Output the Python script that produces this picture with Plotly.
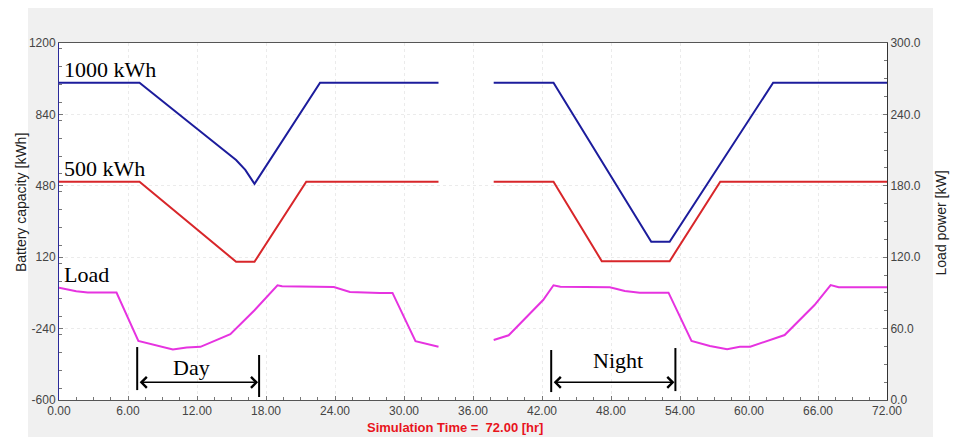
import plotly.graph_objects as go

# ---------------- data ----------------
# Battery state of charge [kWh], left axis (time in hours)
blue_t = [0, 7.0, 12.0, 15.4, 16.2, 17.0, 22.7, 33.0, None,
          37.8, 43.0, 51.5, 53.1, 62.1, 72.0]
blue_v = [1000, 1000, 768, 610, 560, 490, 1000, 1000, None,
          1000, 1000, 198, 198, 1000, 1000]

red_t = [0, 7.0, 15.4, 17.0, 21.5, 33.0, None,
         37.8, 43.0, 47.2, 53.1, 57.5, 72.0]
red_v = [500, 500, 97, 97, 500, 500, None,
         500, 500, 100, 100, 500, 500]

# Load power [kW], right axis
load_t = [0, 1.5, 2.5, 5.0, 6.9, 8.5, 9.9, 11.1, 12.3, 14.9, 17.0, 19.0, 19.4,
          23.9, 25.3, 27.9, 29.0, 31.0, 33.0, None,
          37.8, 39.1, 42.1, 43.0, 43.6, 47.9, 49.2, 50.5, 53.0, 55.0, 56.6,
          58.1, 59.2, 60.1, 63.1, 65.7, 67.1, 67.8, 72.0]
load_v = [94.3, 91.4, 90.3, 90.3, 49.6, 46.1, 42.5, 44.2, 44.7, 55.3, 75.4, 96.4, 95.6,
          95.0, 90.8, 90.0, 90.0, 49.5, 44.7, None,
          50.4, 54.4, 84.0, 96.4, 95.2, 94.7, 91.6, 90.2, 90.2, 49.6, 45.4,
          42.6, 44.8, 44.8, 54.6, 79.8, 96.6, 94.7, 94.7]

day_span = [6.8, 17.4]
night_span = [42.8, 53.6]

x_ticks = [0, 6, 12, 18, 24, 30, 36, 42, 48, 54, 60, 66, 72]
x_labels = ["0.00", "6.00", "12.00", "18.00", "24.00", "30.00", "36.00",
            "42.00", "48.00", "54.00", "60.00", "66.00", "72.00"]
left_ticks = [-600, -240, 120, 480, 840, 1200]
left_labels = ["-600", "-240", "120", "480", "840", "1200"]
right_ticks = [0, 60, 120, 180, 240, 300]
right_labels = ["0.0", "60.0", "120.0", "180.0", "240.0", "300.0"]

# ---------------- figure ----------------
fig = go.Figure()
fig.add_trace(go.Scatter(x=blue_t, y=blue_v, mode="lines",
                         line=dict(color="#1c1c9c", width=2), connectgaps=False,
                         showlegend=False, yaxis="y", hoverinfo="skip"))
fig.add_trace(go.Scatter(x=red_t, y=red_v, mode="lines",
                         line=dict(color="#d8262a", width=2), connectgaps=False,
                         showlegend=False, yaxis="y", hoverinfo="skip"))
fig.add_trace(go.Scatter(x=load_t, y=load_v, mode="lines",
                         line=dict(color="#e633e0", width=2), connectgaps=False,
                         showlegend=False, yaxis="y2", hoverinfo="skip"))

tickfont = dict(family="Arial, Liberation Sans, sans-serif", size=12, color="#444444")
minor_common = dict(ticks="inside", ticklen=3, tickcolor="#777777", showgrid=False)

fig.update_layout(
    width=955, height=437,
    margin=dict(l=59, r=68, t=43, b=37),
    paper_bgcolor="white", plot_bgcolor="white",
    xaxis=dict(range=[0, 72], tickvals=x_ticks, ticktext=x_labels,
               showgrid=True, gridcolor="#ebebeb", griddash="dot", gridwidth=1,
               zeroline=False, showline=True, linecolor="#555555", linewidth=1,
               mirror=True, ticks="inside", ticklen=4, tickcolor="#777777",
               tickfont=tickfont,
               minor=dict(dtick=1.5, **minor_common)),
    yaxis=dict(range=[-600, 1200], tickvals=left_ticks, ticktext=left_labels,
               showgrid=True, gridcolor="#ebebeb", griddash="dot", gridwidth=1,
               zeroline=False, showline=True, linecolor="#2a2a9a", linewidth=1,
               ticks="inside", ticklen=4, tickcolor="#777777",
               tickfont=tickfont,
               minor=dict(dtick=90, **minor_common)),
    yaxis2=dict(range=[0, 300], tickvals=right_ticks, ticktext=right_labels,
                overlaying="y", side="right", showgrid=False, zeroline=False,
                showline=True, linecolor="#333333", linewidth=1,
                ticks="inside", ticklen=4, tickcolor="#777777",
                tickfont=tickfont,
                minor=dict(dtick=15, **minor_common)),
)

# gray frame and white plot area (below the grid)
fig.add_shape(type="rect", xref="paper", yref="paper", layer="below",
              x0=-0.0374, x1=1.0556, y0=-0.11, y1=1.098,
              fillcolor="#f0f0f0", line=dict(width=0))
fig.add_shape(type="rect", xref="paper", yref="paper", layer="below",
              x0=0, x1=1, y0=0, y1=1, fillcolor="white", line=dict(width=0))

serif = dict(family="Times New Roman, Liberation Serif, serif", size=22, color="black")

# series labels
fig.add_annotation(x=0.25, y=1067, xref="x", yref="y", text="1000 kWh",
                   showarrow=False, xanchor="left", yanchor="middle", font=serif)
fig.add_annotation(x=0.25, y=567, xref="x", yref="y", text="500 kWh",
                   showarrow=False, xanchor="left", yanchor="middle", font=serif)
fig.add_annotation(x=0.25, y=33, xref="x", yref="y", text="Load",
                   showarrow=False, xanchor="left", yanchor="middle", font=serif)

# Day / Night markers
def span_marker(span, label, label_x, label_y, bar_l, bar_r):
    fig.add_shape(type="line", xref="x", yref="y", x0=span[0], x1=span[0],
                  y0=bar_l[0], y1=bar_l[1], line=dict(color="black", width=2))
    fig.add_shape(type="line", xref="x", yref="y", x0=span[1], x1=span[1],
                  y0=bar_r[0], y1=bar_r[1], line=dict(color="black", width=2))
    fig.add_annotation(x=span[1], y=-511, ax=span[0], ay=-511,
                       xref="x", yref="y", axref="x", ayref="y",
                       text="", showarrow=True, arrowhead=4, startarrowhead=4,
                       arrowside="end+start", arrowsize=1.4, startarrowsize=1.4,
                       arrowwidth=1.5, arrowcolor="black", standoff=1, startstandoff=1)
    fig.add_annotation(x=label_x, y=label_y, xref="x", yref="y",
                       text=label, showarrow=False, xanchor="center",
                       yanchor="middle", font=serif)

span_marker(day_span, "Day", 11.5, -434, (-333, -550), (-373, -585))
span_marker(night_span, "Night", 48.6, -403, (-348, -560), (-338, -555))

# axis titles and bottom caption
fig.add_annotation(x=-0.0459, y=0.5546, xref="paper", yref="paper",
                   text="Battery capacity [kWh]", showarrow=False, textangle=-90,
                   xanchor="center", yanchor="middle",
                   font=dict(family="Arial, Liberation Sans, sans-serif", size=14, color="#222222"))
fig.add_annotation(x=1.0658, y=0.4958, xref="paper", yref="paper",
                   text="Load power [kW]", showarrow=False, textangle=-90,
                   xanchor="center", yanchor="middle",
                   font=dict(family="Arial, Liberation Sans, sans-serif", size=14, color="#222222"))
fig.add_annotation(x=0.478, y=-0.078, xref="paper", yref="paper",
                   text="<b>Simulation Time =  72.00 [hr]</b>", showarrow=False,
                   xanchor="center", yanchor="middle",
                   font=dict(family="Arial, Liberation Sans, sans-serif", size=13, color="#e8141c"))

fig.write_html("out.html", config={"displayModeBar": False},
               post_script="document.body.style.margin='0';document.body.style.overflow='hidden';")
